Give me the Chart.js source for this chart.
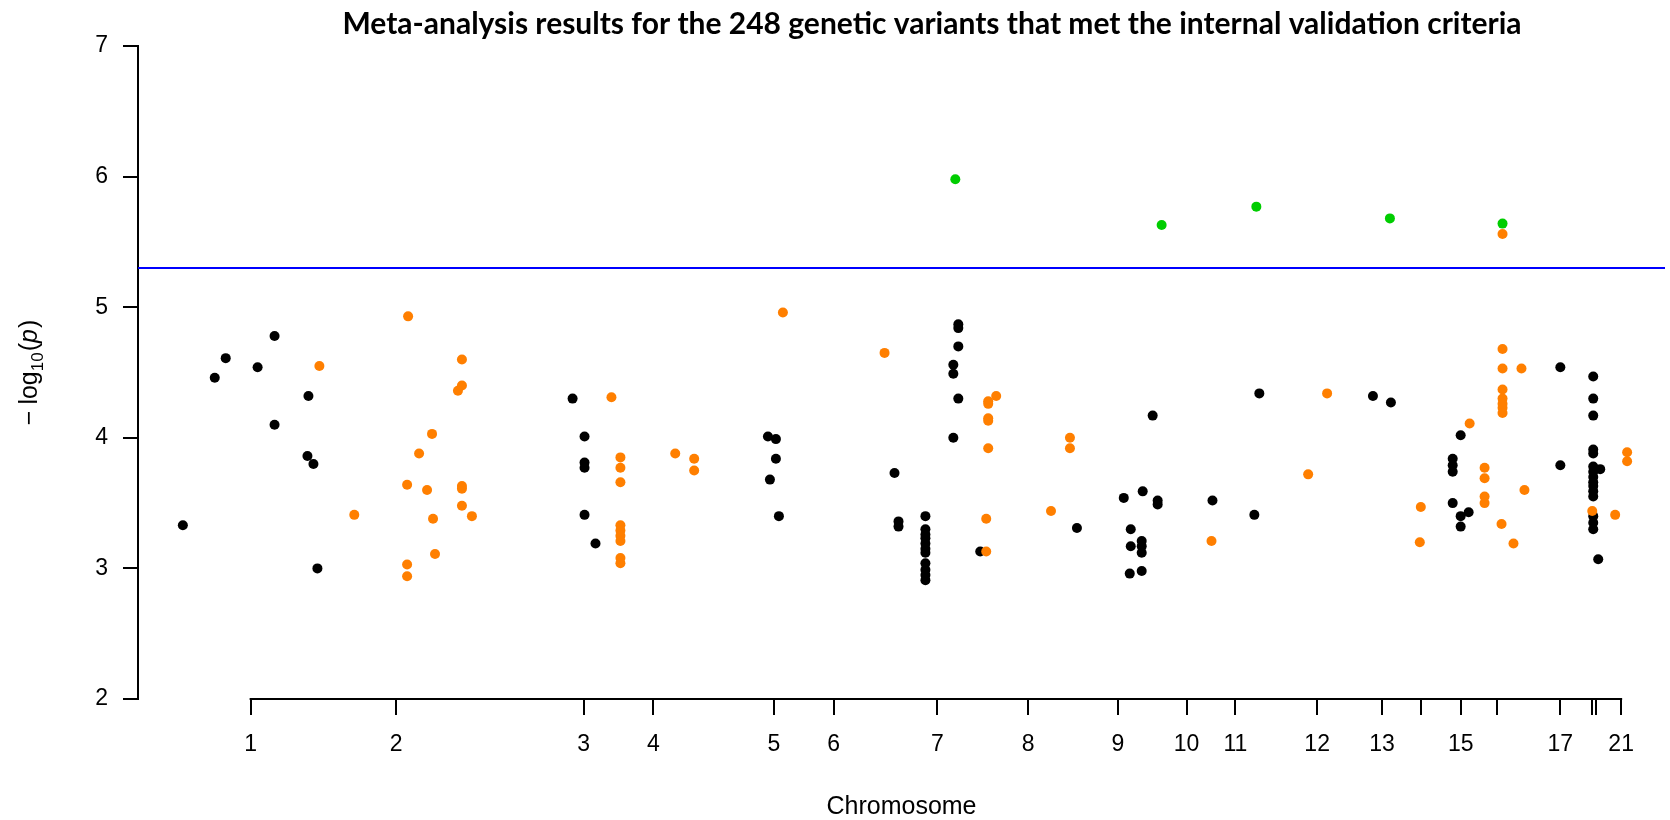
<!DOCTYPE html>
<html><head><meta charset="utf-8">
<script src="https://cdn.jsdelivr.net/npm/chart.js@4.4.1/dist/chart.umd.min.js"></script>
<style>html,body{margin:0;padding:0;background:#fff;}canvas{display:block;}</style>
</head><body>
<canvas id="c" width="1670" height="820"></canvas>
<script>
// ---- data (cumulative genome position index, -log10 p) ----
const titleText = 'Meta-analysis results for the 248 genetic variants that met the internal validation criteria';
const xTitle = 'Chromosome';
const posMin = 0, posMax = 1532;
const yMin = 2, yMax = 7;
const thresholdLogP = 5.3;

const chromosomeTickPos = [113, 259, 447, 517, 638, 698, 802, 893, 983, 1052, 1101, 1183, 1248, 1287, 1327, 1363, 1427, 1459, 1463, 1488];
const chromosomeTickLabels = ['1','2','3','4','5','6','7','8','9','10','11','12','13','','15','','17','','','21'];

const blackPos = [45,77,88,120,137,137,170,171,176,180,
  436,448,448,448,448,459,
  632,640,640,634,643,
  759,763,763,790,790,790,790,790,790,790,790,790,790,790,
  823,823,823,818,818,823,818,845,
  942,989,1008,1023,1023,996,996,1007,1007,1007,995,1007,1018,
  1078,1120,1125,
  1239,1257,
  1327,1319,1319,1319,1319,1327,1335,1327,
  1427,1427,
  1460,1460,1460,1460,1460,1460,1460,1460,1460,1460,1460,1460,1460,1460,1460,1467,1465];
const blackLogP = [3.33,4.46,4.61,4.54,4.78,4.10,3.86,4.32,3.80,3.00,
  4.30,4.01,3.81,3.77,3.41,3.19,
  4.01,3.99,3.84,3.68,3.40,
  3.73,3.36,3.32,3.40,3.30,3.26,3.23,3.19,3.15,3.12,3.04,2.99,2.95,2.91,
  4.87,4.84,4.70,4.56,4.49,4.30,4.00,3.13,
  3.31,3.54,3.59,3.52,3.49,3.30,3.17,3.21,3.17,3.12,2.96,2.98,4.17,
  3.52,3.41,4.34,
  4.32,4.27,
  4.02,3.84,3.79,3.74,3.50,3.40,3.43,3.32,
  4.54,3.79,
  4.47,4.30,4.17,3.91,3.88,3.78,3.74,3.70,3.66,3.63,3.59,3.55,3.40,3.35,3.30,3.76,3.07];

const orangePos = [182,217,271,270,270,270,325,325,321,295,282,290,325,325,325,335,296,298,
  475,484,484,484,484,484,484,484,484,484,
  539,558,558,
  647,749,
  861,853,853,853,853,853,851,851,935,935,916,
  1077,
  1174,1193,
  1287,1286,
  1336,1351,1351,1351,1351,1369,1369,1369,1388,1369,1369,1369,1369,1369,1391,1368,1380,
  1459,1482,1494,1494];
const orangeLogP = [4.55,3.41,4.93,3.64,3.03,2.94,4.60,4.40,4.36,4.03,3.88,3.60,3.63,3.61,3.48,3.40,3.38,3.11,
  4.31,3.85,3.77,3.66,3.33,3.29,3.25,3.21,3.08,3.04,
  3.88,3.84,3.75,
  4.96,4.65,
  4.32,4.28,4.26,4.15,4.13,3.92,3.38,3.13,4.00,3.92,3.44,
  3.21,
  3.72,4.34,
  3.47,3.20,
  4.11,3.77,3.69,3.55,3.50,5.56,4.68,4.53,4.53,4.37,4.30,4.26,4.23,4.19,3.60,3.34,3.19,
  3.44,3.41,3.89,3.82];

const greenPos = [820,1027,1122,1256,1369];
const greenLogP = [5.98,5.63,5.77,5.68,5.64];

// ---- build ----
const toPts = (xs, ys) => xs.map((x, i) => ({x: x, y: ys[i]}));
const fam = "'Liberation Sans', Arial, sans-serif";
const tickFont = {family: fam, size: 23};

const decorPlugin = {
  id: 'decor',
  afterDraw(chart) {
    const ctx = chart.ctx;
    const xs = chart.scales.x, ys = chart.scales.y;
    ctx.save();
    // x axis line from first to last chromosome tick
    const yb = ys.getPixelForValue(yMin);
    ctx.strokeStyle = '#000';
    ctx.lineWidth = 2;
    ctx.beginPath();
    ctx.moveTo(xs.getPixelForValue(chromosomeTickPos[0]) - 1, yb);
    ctx.lineTo(xs.getPixelForValue(chromosomeTickPos[chromosomeTickPos.length - 1]) + 1, yb);
    ctx.stroke();
    // title
    ctx.fillStyle = '#000';
    ctx.font = "bold 30px Lato, 'Open Sans', sans-serif";
    ctx.textAlign = 'center';
    ctx.textBaseline = 'middle';
    ctx.fillText(titleText, 932, 24);
    // y axis label: −log10(p)
    const cy = (ys.top + ys.bottom) / 2;
    ctx.translate(37, cy);
    ctx.rotate(-Math.PI / 2);
    const parts = [
      {t: '\u2212', f: '25px ' + fam, dy: 0, gap: 6},
      {t: 'log', f: '25px ' + fam, dy: 0, gap: 0},
      {t: '10', f: '17px ' + fam, dy: 6, gap: 1},
      {t: '(', f: '25px ' + fam, dy: 0, gap: 0},
      {t: 'p', f: 'italic 25px ' + fam, dy: 0, gap: 1},
      {t: ')', f: '25px ' + fam, dy: 0, gap: 0}
    ];
    let total = 0;
    parts.forEach(p => { ctx.font = p.f; p.w = ctx.measureText(p.t).width; total += p.w + p.gap; });
    let x = -total / 2;
    ctx.textAlign = 'left';
    ctx.textBaseline = 'alphabetic';
    parts.forEach(p => { ctx.font = p.f; ctx.fillText(p.t, x, p.dy); x += p.w + p.gap; });
    ctx.restore();
  }
};

new Chart(document.getElementById('c'), {
  type: 'scatter',
  data: {
    datasets: [
      {label: 'threshold', type: 'line', data: [{x: posMin, y: thresholdLogP}, {x: posMax, y: thresholdLogP}],
        borderColor: '#0000FF', borderWidth: 2, pointRadius: 0, fill: false, order: 4},
      {label: 'odd chromosomes', data: toPts(blackPos, blackLogP), backgroundColor: '#000000',
        pointRadius: 5, borderWidth: 0, order: 3},
      {label: 'even chromosomes', data: toPts(orangePos, orangeLogP), backgroundColor: '#FF7F00',
        pointRadius: 5, borderWidth: 0, order: 2},
      {label: 'significant', data: toPts(greenPos, greenLogP), backgroundColor: '#00CD00',
        pointRadius: 5, borderWidth: 0, order: 1}
    ]
  },
  options: {
    responsive: false, animation: false, devicePixelRatio: 1, events: [],
    layout: {padding: {top: 46, left: 0, right: 0, bottom: 0}},
    plugins: {legend: {display: false}, title: {display: false}, tooltip: {enabled: false}},
    scales: {
      x: {
        type: 'linear', min: posMin, max: posMax,
        afterBuildTicks(s) { s.ticks = chromosomeTickPos.map(v => ({value: v})); },
        afterFit(s) { s.height = 121; },
        ticks: {autoSkip: false, maxRotation: 0, padding: 16, font: tickFont, color: '#000',
          callback: (v, i) => chromosomeTickLabels[i]},
        grid: {drawOnChartArea: false, drawTicks: true, tickLength: 16, color: '#000', lineWidth: 2},
        border: {display: false},
        title: {display: true, text: xTitle, color: '#000', font: {family: fam, size: 25, lineHeight: 1.0}, padding: {top: 0, bottom: 0}}
      },
      y: {
        min: yMin, max: yMax,
        afterFit(s) { s.width = 138; },
        ticks: {stepSize: 1, padding: 15, font: tickFont, color: '#000'},
        grid: {drawOnChartArea: false, drawTicks: true, tickLength: 15, color: '#000', lineWidth: 2},
        border: {display: true, color: '#000', width: 2}
      }
    }
  },
  plugins: [decorPlugin]
});
</script>
</body></html>
